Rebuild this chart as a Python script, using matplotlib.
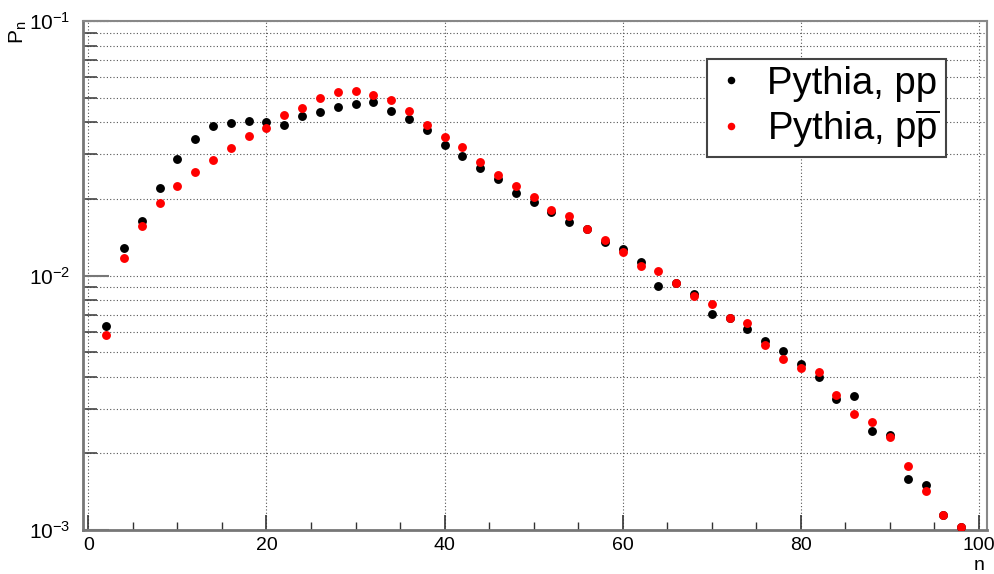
import matplotlib
matplotlib.use("Agg")
import matplotlib.pyplot as plt
from matplotlib.ticker import FixedLocator, FixedFormatter, LogLocator, NullFormatter, MultipleLocator

plt.rcParams['font.family'] = ['Liberation Sans', 'DejaVu Sans']
plt.rcParams['mathtext.fontset'] = 'custom'
plt.rcParams['mathtext.rm'] = 'Liberation Sans'
plt.rcParams['mathtext.it'] = 'Liberation Sans'
plt.rcParams['mathtext.bf'] = 'Liberation Sans'

n_values = [2, 4, 6, 8, 10, 12, 14, 16, 18, 20, 22, 24, 26, 28, 30, 32, 34, 36, 38, 40,
            42, 44, 46, 48, 50, 52, 54, 56, 58, 60, 62, 64, 66, 68, 70, 72, 74, 76, 78, 80,
            82, 84, 86, 88, 90, 92, 94, 96, 98]

p_pp = [0.00632, 0.01279, 0.01644, 0.0220, 0.0288, 0.0344, 0.0388, 0.0399, 0.0406, 0.0402,
        0.0391, 0.0424, 0.0439, 0.0460, 0.0471, 0.0479, 0.0441, 0.0412, 0.0374, 0.0327,
        0.0296, 0.0265, 0.0240, 0.0210, 0.0195, 0.0177, 0.0162, 0.0152, 0.01349, 0.0127,
        0.01134, 0.00912, 0.00938, 0.00849, 0.00708, 0.00678, 0.00619, 0.00552, 0.00504, 0.00449,
        0.00398, 0.00328, 0.00335, 0.00246, 0.00237, 0.00158, 0.00150, 0.00115, 0.00103]

p_ppbar = [0.00585, 0.01175, 0.0157, 0.0192, 0.0225, 0.0254, 0.0285, 0.0316, 0.0354, 0.0379,
           0.0428, 0.0454, 0.0498, 0.0526, 0.0531, 0.0514, 0.0489, 0.0442, 0.0391, 0.0350,
           0.0319, 0.0279, 0.0248, 0.0225, 0.0204, 0.0181, 0.0171, 0.0152, 0.01375, 0.01233,
           0.01085, 0.01043, 0.00938, 0.00828, 0.00775, 0.00678, 0.00648, 0.00532, 0.00471, 0.00433,
           0.00418, 0.00340, 0.00285, 0.00265, 0.00232, 0.00178, 0.00142, 0.00115, 0.00103]

series_labels = ['Pythia, pp', r'Pythia, p$\overline{\mathrm{p}}$']
x_ticks = [0, 20, 40, 60, 80, 100]
y_ticks = [1e-3, 1e-2, 1e-1]
y_tick_labels = [r'$10^{-3}$', r'$10^{-2}$', r'$10^{-1}$']

W, H = 994, 574
fig = plt.figure(figsize=(W / 100, H / 100), dpi=100)
L, R, T, B = 83, 987, 21, 530
ax = fig.add_axes([L / W, (H - B) / H, (R - L) / W, (B - T) / H])

ax.plot(n_values, p_pp, 'o', color='black', markersize=6.4, markeredgewidth=0,
        label=series_labels[0], zorder=3)
ax.plot(n_values, p_ppbar, 'o', color='#ff0000', markersize=6.4, markeredgewidth=0,
        label=series_labels[1], zorder=4)

ax.set_yscale('log')
ax.set_xlim(-0.6, 100.9)
ax.set_ylim(1e-3, 1e-1)

ax.xaxis.set_major_locator(FixedLocator(x_ticks))
ax.xaxis.set_minor_locator(MultipleLocator(5))
ax.yaxis.set_major_locator(FixedLocator(y_ticks))
ax.yaxis.set_major_formatter(FixedFormatter(y_tick_labels))
ax.yaxis.set_minor_locator(LogLocator(base=10, subs=[2, 3, 4, 5, 6, 7, 8, 9]))
ax.yaxis.set_minor_formatter(NullFormatter())

grid_kw = dict(color='#555555', linestyle=(0, (1, 2)), linewidth=0.8)
ax.grid(True, which='major', axis='x', **grid_kw)
ax.grid(True, which='both', axis='y', **grid_kw)
ax.set_axisbelow(True)

ax.tick_params(axis='x', which='major', direction='in', length=11, width=1.2,
               color='#333333', labelsize=14, pad=5, top=False)
ax.tick_params(axis='x', which='minor', direction='in', length=5.5, width=1.0,
               color='#333333', top=False)
ax.tick_params(axis='y', which='major', direction='in', length=19, width=1.5,
               color='#777777', labelsize=15, pad=9, right=False)
ax.tick_params(axis='y', which='minor', direction='in', length=10, width=1.2,
               color='#444444', right=False)

for side in ['left', 'bottom']:
    ax.spines[side].set_color('#777777')
    ax.spines[side].set_linewidth(2.0)
for side in ['top', 'right']:
    ax.spines[side].set_color('#888888')
    ax.spines[side].set_linewidth(1.5)

ax.set_xlabel('n', fontsize=14, ha='center', va='center')
ax.xaxis.set_label_coords((979 - L) / (R - L), (B - 565) / (B - T))
ax.set_ylabel(r'P$_{\mathrm{n}}$', fontsize=15, ha='center', va='center')
ax.yaxis.set_label_coords((18 - L) / (R - L), (B - 32) / (B - T))

leg = ax.legend(loc='upper left', bbox_to_anchor=(0.690, 0.926), fontsize=27.5,
                frameon=True, fancybox=False, markerscale=0.85, handlelength=0.9,
                handletextpad=0.5, borderpad=0.18, labelspacing=0.15, borderaxespad=0)
leg.get_frame().set_edgecolor('#444444')
leg.get_frame().set_linewidth(1.5)
leg.get_frame().set_alpha(1.0)

fig.savefig('out.png', dpi=100)
